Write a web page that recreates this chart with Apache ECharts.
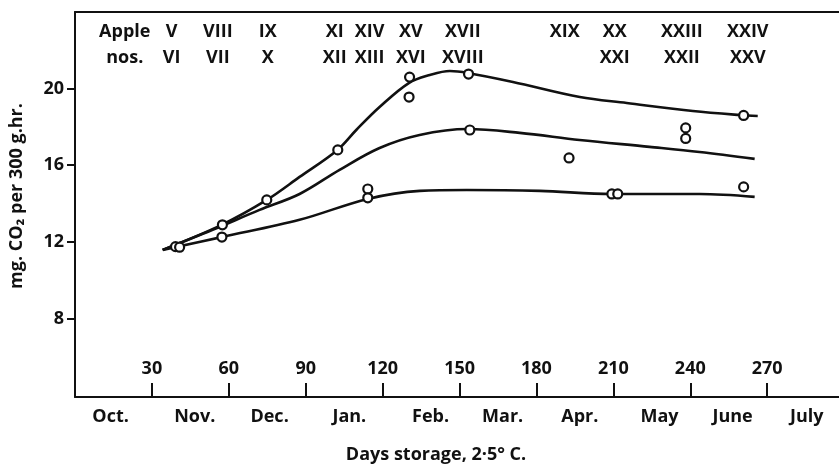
<!DOCTYPE html>
<html><head><meta charset="utf-8">
<script src="https://cdn.jsdelivr.net/npm/echarts@6/dist/echarts.min.js"></script>
<style>html,body{margin:0;padding:0;background:#fff}#c{width:839px;height:465px}</style>
</head><body><div id="c"></div>
<script>
// ---- data ----
const dayTicks = [30, 60, 90, 120, 150, 180, 210, 240, 270];
const yTicks = [8, 12, 16, 20];
const monthNames = ['Oct.', 'Nov.', 'Dec.', 'Jan.', 'Feb.', 'Mar.', 'Apr.', 'May', 'June', 'July'];
const monthDays = [13.9, 46.7, 75.9, 107, 138.7, 166.8, 196.9, 228, 256.5, 285.4];
const appleDays = [19.4, 37.7, 55.7, 75.2, 101.3, 114.9, 131, 151.3, 191, 210.5, 236.7, 262.4];
const appleRow1 = ['Apple', 'V', 'VIII', 'IX', 'XI', 'XIV', 'XV', 'XVII', 'XIX', 'XX', 'XXIII', 'XXIV'];
const appleRow2 = ['nos.', 'VI', 'VII', 'X', 'XII', 'XIII', 'XVI', 'XVIII', '', 'XXI', 'XXII', 'XXV'];

const upperCurve = [[34.2,11.58],[57.2,12.89],[74.8,14.19],[87.6,15.39],[102.4,16.80],[109.7,17.84],[118.8,19.04],[130.2,20.29],[138.4,20.71],[146.2,20.92],[153.2,20.82],[170.8,20.35],[196.9,19.56],[215.2,19.25],[241.0,18.83],[259.3,18.62],[266.3,18.57]];
const middleCurve = [[34.2,11.58],[53.7,12.63],[72.0,13.67],[87.6,14.50],[103.2,15.76],[118.8,16.90],[134.4,17.58],[153.2,17.89],[173.5,17.69],[196.8,17.32],[224.1,16.96],[243.6,16.69],[265.1,16.33]];
const lowerCurve = [[34.2,11.58],[57.6,12.26],[87.6,13.15],[114.2,14.24],[134.5,14.66],[152.8,14.71],[181.3,14.66],[209.4,14.50],[243.7,14.50],[265.1,14.35]];
const observed = [[39.2,11.75],[40.8,11.72],[57.5,12.89],[57.3,12.25],[74.8,14.19],[102.5,16.8],[114.2,14.76],[114.2,14.3],[130.5,20.6],[130.3,19.56],[153.5,20.76],[154,17.84],[192.7,16.38],[209.4,14.5],[211.7,14.5],[238.2,17.95],[238.2,17.4],[260.8,18.6],[260.8,14.87]];

const FONT = 'Open Sans';
const INK = '#111';
const FS = 18;
const chart = echarts.init(document.getElementById('c'));
const lineSeries = (d) => ({
  type: 'line', data: d, smooth: 0.35, showSymbol: false, xAxisIndex: 0, yAxisIndex: 0,
  lineStyle: { color: INK, width: 2.6 }, z: 2, animation: false
});
chart.setOption({
  animation: false,
  backgroundColor: '#fff',
  grid: { left: 75, right: 0, top: 12, bottom: 68, containLabel: false },
  xAxis: [
    { type: 'value', position: 'bottom', min: 0, max: 298,
      axisLine: { onZero: false, lineStyle: { color: INK, width: 2 } },
      axisTick: { show: true, inside: true, length: 14, customValues: dayTicks, lineStyle: { color: INK, width: 2 } },
      axisLabel: { inside: true, margin: 19, customValues: dayTicks, color: INK, fontFamily: FONT, fontWeight: 'bold', fontSize: FS },
      splitLine: { show: false } },
    { type: 'value', position: 'bottom', min: 0, max: 298,
      axisLine: { show: false }, axisTick: { show: false },
      axisLabel: { margin: 11, customValues: monthDays, color: INK, fontFamily: FONT, fontWeight: 'bold', fontSize: FS,
        formatter: (v) => monthNames[monthDays.indexOf(v)] },
      splitLine: { show: false } },
    { type: 'value', position: 'top', min: 0, max: 298,
      axisLine: { onZero: false, lineStyle: { color: INK, width: 2 } }, axisTick: { show: false },
      axisLabel: { inside: true, margin: 7, customValues: appleDays, color: INK, fontFamily: FONT, fontWeight: 'bold', fontSize: FS, lineHeight: 26,
        formatter: (v) => { const i = appleDays.indexOf(v); return appleRow1[i] + '\n' + (appleRow2[i] || ' '); } },
      splitLine: { show: false } }
  ],
  yAxis: [{
    type: 'value', min: 3.9, max: 24,
    axisLine: { show: true, onZero: false, lineStyle: { color: INK, width: 2 } },
    axisTick: { show: true, length: 8, customValues: yTicks, lineStyle: { color: INK, width: 2 } },
    axisLabel: { margin: 11, customValues: yTicks, color: INK, fontFamily: FONT, fontWeight: 'bold', fontSize: FS },
    splitLine: { show: false }
  }],
  graphic: [
    { type: 'text', x: 436, y: 455, style: { text: 'Days storage, 2·5° C.', fill: INK, font: 'bold 18px "Open Sans"', align: 'center', verticalAlign: 'middle' } },
    { type: 'text', x: 17, y: 196, rotation: Math.PI / 2, style: { text: 'mg. CO₂ per 300 g.hr.', fill: INK, font: 'bold 18px "Open Sans"', align: 'center', verticalAlign: 'middle' } }
  ],
  series: [
    lineSeries(upperCurve), lineSeries(middleCurve), lineSeries(lowerCurve),
    { type: 'scatter', data: observed, symbol: 'circle', symbolSize: 9, xAxisIndex: 0, yAxisIndex: 0, z: 3,
      itemStyle: { color: '#fff', borderColor: INK, borderWidth: 2.2, opacity: 1 } }
  ]
});
</script></body></html>
